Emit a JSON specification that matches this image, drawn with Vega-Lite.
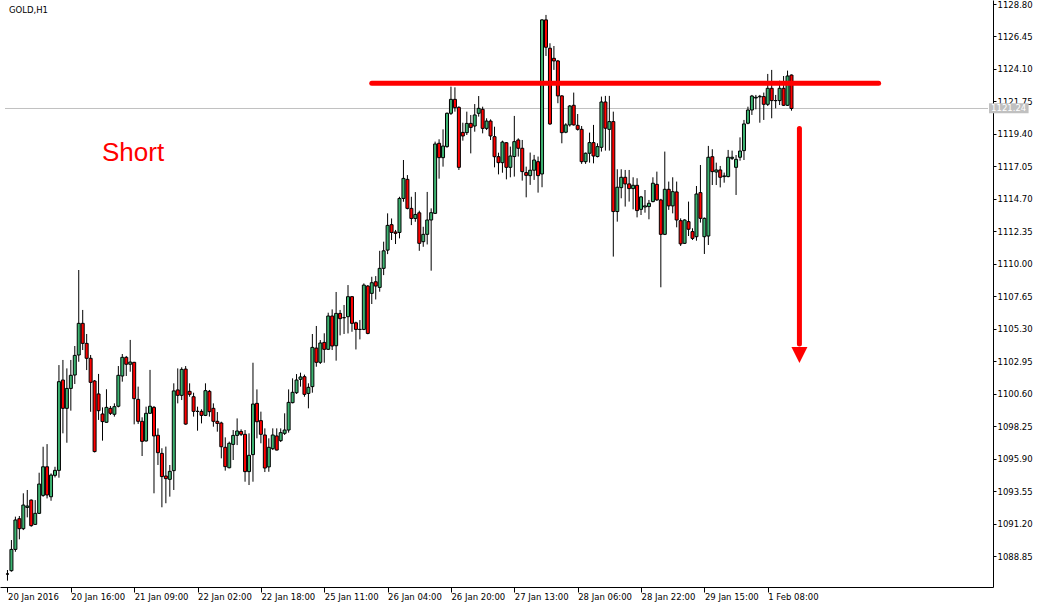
{
  "$schema": "https://vega.github.io/schema/vega-lite/v6.json",
  "width": 993,
  "height": 587,
  "autosize": {"type": "none"},
  "padding": {"left": 0, "top": 0, "right": 52, "bottom": 21},
  "background": "white",
  "config": {"view": {"stroke": null}, "font": "DejaVu Sans"},
  "datasets": {
    "candles": [
      {"i":0,"o":1087.55,"h":1087.84,"l":1087.07,"c":1087.55},
      {"i":1,"o":1087.79,"h":1090.01,"l":1087.72,"c":1089.33},
      {"i":2,"o":1089.33,"h":1091.70,"l":1089.16,"c":1091.46},
      {"i":3,"o":1091.55,"h":1091.75,"l":1090.06,"c":1090.83},
      {"i":4,"o":1090.83,"h":1093.39,"l":1090.73,"c":1092.54},
      {"i":5,"o":1092.37,"h":1093.63,"l":1091.65,"c":1092.47},
      {"i":6,"o":1092.90,"h":1092.95,"l":1090.97,"c":1091.05},
      {"i":7,"o":1091.14,"h":1092.90,"l":1091.10,"c":1091.94},
      {"i":8,"o":1091.94,"h":1094.88,"l":1091.89,"c":1094.06},
      {"i":9,"o":1093.24,"h":1096.76,"l":1093.14,"c":1095.31},
      {"i":10,"o":1095.31,"h":1096.95,"l":1093.02,"c":1093.27},
      {"i":11,"o":1093.14,"h":1094.83,"l":1092.85,"c":1094.71},
      {"i":12,"o":1094.69,"h":1095.31,"l":1094.54,"c":1095.05},
      {"i":13,"o":1095.05,"h":1102.67,"l":1094.52,"c":1101.47},
      {"i":14,"o":1101.59,"h":1103.04,"l":1097.73,"c":1099.54},
      {"i":15,"o":1099.54,"h":1102.43,"l":1097.05,"c":1100.98},
      {"i":16,"o":1100.98,"h":1103.04,"l":1099.37,"c":1101.93},
      {"i":17,"o":1101.95,"h":1104.05,"l":1101.30,"c":1103.37},
      {"i":18,"o":1103.40,"h":1109.55,"l":1102.91,"c":1105.69},
      {"i":19,"o":1105.69,"h":1106.66,"l":1103.76,"c":1104.24},
      {"i":20,"o":1104.24,"h":1104.92,"l":1102.31,"c":1103.16},
      {"i":21,"o":1103.16,"h":1103.40,"l":1099.29,"c":1101.42},
      {"i":22,"o":1101.52,"h":1101.59,"l":1096.35,"c":1096.41},
      {"i":23,"o":1100.58,"h":1102.03,"l":1098.70,"c":1099.37},
      {"i":24,"o":1099.13,"h":1099.61,"l":1097.20,"c":1098.58},
      {"i":25,"o":1098.53,"h":1100.92,"l":1098.50,"c":1099.61},
      {"i":26,"o":1099.54,"h":1099.71,"l":1099.06,"c":1099.18},
      {"i":27,"o":1099.11,"h":1099.90,"l":1098.94,"c":1099.66},
      {"i":28,"o":1099.69,"h":1102.60,"l":1099.61,"c":1101.93},
      {"i":29,"o":1101.88,"h":1103.47,"l":1101.47,"c":1103.23},
      {"i":30,"o":1103.23,"h":1103.33,"l":1101.88,"c":1102.73},
      {"i":31,"o":1102.73,"h":1104.49,"l":1102.19,"c":1102.89},
      {"i":32,"o":1102.87,"h":1102.90,"l":1098.38,"c":1100.24},
      {"i":33,"o":1100.19,"h":1101.11,"l":1098.41,"c":1098.60},
      {"i":34,"o":1098.60,"h":1098.89,"l":1096.09,"c":1097.15},
      {"i":35,"o":1097.18,"h":1099.66,"l":1097.13,"c":1099.18},
      {"i":36,"o":1099.18,"h":1102.32,"l":1099.13,"c":1099.69},
      {"i":37,"o":1099.61,"h":1099.71,"l":1093.39,"c":1097.54},
      {"i":38,"o":1097.59,"h":1098.09,"l":1095.44,"c":1096.33},
      {"i":39,"o":1096.28,"h":1096.65,"l":1092.38,"c":1094.60},
      {"i":40,"o":1094.64,"h":1096.77,"l":1092.67,"c":1094.45},
      {"i":41,"o":1094.40,"h":1095.44,"l":1093.15,"c":1094.98},
      {"i":42,"o":1095.03,"h":1101.35,"l":1093.63,"c":1100.80},
      {"i":43,"o":1100.87,"h":1102.43,"l":1099.90,"c":1100.48},
      {"i":44,"o":1100.48,"h":1102.51,"l":1100.14,"c":1102.36},
      {"i":45,"o":1102.38,"h":1102.60,"l":1098.35,"c":1098.40},
      {"i":46,"o":1100.77,"h":1101.35,"l":1100.38,"c":1100.55},
      {"i":47,"o":1100.38,"h":1100.67,"l":1098.94,"c":1099.32},
      {"i":48,"o":1099.32,"h":1099.66,"l":1097.92,"c":1099.32},
      {"i":49,"o":1099.32,"h":1099.47,"l":1098.45,"c":1099.03},
      {"i":50,"o":1099.03,"h":1101.35,"l":1098.98,"c":1100.82},
      {"i":51,"o":1100.77,"h":1100.87,"l":1098.94,"c":1099.30},
      {"i":52,"o":1099.54,"h":1099.90,"l":1098.21,"c":1098.60},
      {"i":53,"o":1098.60,"h":1099.27,"l":1097.85,"c":1098.45},
      {"i":54,"o":1098.48,"h":1098.57,"l":1095.92,"c":1096.76},
      {"i":55,"o":1096.72,"h":1097.44,"l":1095.03,"c":1095.32},
      {"i":56,"o":1095.24,"h":1097.13,"l":1095.20,"c":1097.01},
      {"i":57,"o":1096.93,"h":1097.97,"l":1095.80,"c":1097.58},
      {"i":58,"o":1097.58,"h":1098.81,"l":1096.88,"c":1097.90},
      {"i":59,"o":1097.87,"h":1098.02,"l":1097.54,"c":1097.66},
      {"i":60,"o":1097.66,"h":1097.97,"l":1094.23,"c":1094.96},
      {"i":61,"o":1094.96,"h":1097.73,"l":1093.99,"c":1096.14},
      {"i":62,"o":1096.19,"h":1102.84,"l":1094.23,"c":1099.85},
      {"i":63,"o":1099.90,"h":1100.91,"l":1097.37,"c":1098.57},
      {"i":64,"o":1098.65,"h":1099.30,"l":1097.01,"c":1097.66},
      {"i":65,"o":1097.61,"h":1098.09,"l":1094.93,"c":1095.22},
      {"i":66,"o":1095.30,"h":1097.37,"l":1094.95,"c":1096.72},
      {"i":67,"o":1096.62,"h":1098.09,"l":1096.52,"c":1097.61},
      {"i":68,"o":1097.54,"h":1098.09,"l":1096.50,"c":1096.52},
      {"i":69,"o":1097.20,"h":1098.09,"l":1097.10,"c":1097.78},
      {"i":70,"o":1097.73,"h":1099.18,"l":1097.61,"c":1097.97},
      {"i":71,"o":1097.97,"h":1100.91,"l":1097.78,"c":1099.97},
      {"i":72,"o":1099.95,"h":1101.71,"l":1099.90,"c":1100.70},
      {"i":73,"o":1100.67,"h":1102.02,"l":1100.58,"c":1101.59},
      {"i":74,"o":1101.64,"h":1102.12,"l":1101.11,"c":1101.81},
      {"i":75,"o":1101.83,"h":1101.98,"l":1100.38,"c":1100.55},
      {"i":76,"o":1100.62,"h":1101.35,"l":1099.54,"c":1101.06},
      {"i":77,"o":1101.11,"h":1104.92,"l":1100.67,"c":1103.95},
      {"i":78,"o":1103.90,"h":1105.50,"l":1102.55,"c":1102.87},
      {"i":79,"o":1102.87,"h":1104.48,"l":1102.75,"c":1104.27},
      {"i":80,"o":1104.31,"h":1104.97,"l":1102.84,"c":1103.81},
      {"i":81,"o":1103.81,"h":1106.46,"l":1103.76,"c":1106.22},
      {"i":82,"o":1106.22,"h":1106.70,"l":1103.76,"c":1104.05},
      {"i":83,"o":1104.07,"h":1107.96,"l":1102.99,"c":1106.41},
      {"i":84,"o":1106.41,"h":1106.66,"l":1104.82,"c":1106.03},
      {"i":85,"o":1106.10,"h":1107.02,"l":1104.92,"c":1106.10},
      {"i":86,"o":1106.17,"h":1108.46,"l":1104.96,"c":1107.62},
      {"i":87,"o":1107.62,"h":1107.67,"l":1105.08,"c":1105.69},
      {"i":88,"o":1105.73,"h":1105.81,"l":1103.80,"c":1105.25},
      {"i":89,"o":1105.25,"h":1105.93,"l":1104.53,"c":1105.25},
      {"i":90,"o":1105.25,"h":1108.58,"l":1105.20,"c":1108.46},
      {"i":91,"o":1108.39,"h":1108.46,"l":1104.90,"c":1104.96},
      {"i":92,"o":1107.86,"h":1109.06,"l":1107.09,"c":1108.63},
      {"i":93,"o":1108.70,"h":1109.11,"l":1107.42,"c":1108.39},
      {"i":94,"o":1108.29,"h":1110.94,"l":1107.98,"c":1109.67},
      {"i":95,"o":1109.67,"h":1111.60,"l":1109.18,"c":1110.94},
      {"i":96,"o":1110.99,"h":1113.65,"l":1110.70,"c":1112.78},
      {"i":97,"o":1112.83,"h":1113.28,"l":1111.72,"c":1112.27},
      {"i":98,"o":1112.30,"h":1112.45,"l":1111.43,"c":1112.20},
      {"i":99,"o":1112.27,"h":1114.85,"l":1111.84,"c":1114.73},
      {"i":100,"o":1114.73,"h":1117.51,"l":1114.49,"c":1116.18},
      {"i":101,"o":1116.11,"h":1116.42,"l":1113.94,"c":1114.01},
      {"i":102,"o":1114.01,"h":1114.85,"l":1112.80,"c":1113.28},
      {"i":103,"o":1113.28,"h":1115.19,"l":1113.04,"c":1113.57},
      {"i":104,"o":1113.69,"h":1113.84,"l":1110.94,"c":1111.48},
      {"i":105,"o":1111.60,"h":1112.68,"l":1111.23,"c":1112.13},
      {"i":106,"o":1112.13,"h":1115.20,"l":1111.40,"c":1113.17},
      {"i":107,"o":1113.17,"h":1114.01,"l":1109.50,"c":1113.70},
      {"i":108,"o":1113.65,"h":1118.84,"l":1113.60,"c":1118.67},
      {"i":109,"o":1118.72,"h":1119.01,"l":1116.16,"c":1117.68},
      {"i":110,"o":1117.68,"h":1119.73,"l":1117.03,"c":1118.52},
      {"i":111,"o":1118.48,"h":1120.95,"l":1118.40,"c":1120.89},
      {"i":112,"o":1120.89,"h":1122.82,"l":1120.77,"c":1121.90},
      {"i":113,"o":1121.90,"h":1122.77,"l":1121.01,"c":1121.30},
      {"i":114,"o":1121.32,"h":1121.40,"l":1116.79,"c":1116.98},
      {"i":115,"o":1119.51,"h":1120.21,"l":1118.91,"c":1119.25},
      {"i":116,"o":1119.49,"h":1121.01,"l":1119.32,"c":1120.16},
      {"i":117,"o":1120.16,"h":1120.77,"l":1117.99,"c":1119.87},
      {"i":118,"o":1119.97,"h":1121.56,"l":1119.56,"c":1120.77},
      {"i":119,"o":1120.89,"h":1122.14,"l":1120.65,"c":1121.25},
      {"i":120,"o":1121.18,"h":1121.37,"l":1119.44,"c":1119.80},
      {"i":121,"o":1119.80,"h":1120.53,"l":1119.68,"c":1120.33},
      {"i":122,"o":1120.33,"h":1120.45,"l":1118.96,"c":1119.25},
      {"i":123,"o":1119.20,"h":1119.92,"l":1116.98,"c":1117.75},
      {"i":124,"o":1117.75,"h":1118.04,"l":1116.47,"c":1117.32},
      {"i":125,"o":1117.32,"h":1118.91,"l":1116.59,"c":1118.81},
      {"i":126,"o":1118.76,"h":1118.80,"l":1116.11,"c":1116.98},
      {"i":127,"o":1116.98,"h":1118.48,"l":1116.26,"c":1117.80},
      {"i":128,"o":1117.76,"h":1120.70,"l":1116.31,"c":1118.84},
      {"i":129,"o":1118.96,"h":1119.08,"l":1117.76,"c":1118.36},
      {"i":130,"o":1118.36,"h":1118.96,"l":1116.02,"c":1116.67},
      {"i":131,"o":1116.60,"h":1117.03,"l":1114.81,"c":1116.40},
      {"i":132,"o":1116.38,"h":1118.05,"l":1115.71,"c":1116.77},
      {"i":133,"o":1116.77,"h":1117.88,"l":1116.07,"c":1117.51},
      {"i":134,"o":1117.39,"h":1117.76,"l":1115.15,"c":1116.38},
      {"i":135,"o":1116.50,"h":1127.70,"l":1115.54,"c":1127.65},
      {"i":136,"o":1127.65,"h":1128.01,"l":1125.04,"c":1125.67},
      {"i":137,"o":1125.60,"h":1125.96,"l":1120.05,"c":1120.12},
      {"i":138,"o":1124.87,"h":1125.76,"l":1124.03,"c":1124.68},
      {"i":139,"o":1124.68,"h":1124.75,"l":1121.62,"c":1122.15},
      {"i":140,"o":1122.15,"h":1122.20,"l":1118.72,"c":1119.49},
      {"i":141,"o":1119.52,"h":1120.17,"l":1119.45,"c":1120.05},
      {"i":142,"o":1120.05,"h":1121.49,"l":1119.93,"c":1121.42},
      {"i":143,"o":1121.47,"h":1122.39,"l":1120.00,"c":1120.05},
      {"i":144,"o":1120.02,"h":1120.84,"l":1119.64,"c":1119.73},
      {"i":145,"o":1119.73,"h":1119.97,"l":1117.23,"c":1117.39},
      {"i":146,"o":1117.39,"h":1118.05,"l":1117.23,"c":1118.00},
      {"i":147,"o":1118.00,"h":1119.49,"l":1117.32,"c":1118.77},
      {"i":148,"o":1118.77,"h":1120.05,"l":1117.27,"c":1117.80},
      {"i":149,"o":1117.76,"h":1118.72,"l":1117.70,"c":1118.48},
      {"i":150,"o":1118.43,"h":1122.10,"l":1118.12,"c":1121.71},
      {"i":151,"o":1121.71,"h":1122.15,"l":1118.19,"c":1119.81},
      {"i":152,"o":1119.73,"h":1122.15,"l":1118.19,"c":1120.29},
      {"i":153,"o":1120.29,"h":1121.01,"l":1110.52,"c":1113.78},
      {"i":154,"o":1113.78,"h":1116.84,"l":1113.05,"c":1115.54},
      {"i":155,"o":1115.51,"h":1116.84,"l":1114.74,"c":1116.26},
      {"i":156,"o":1116.26,"h":1116.79,"l":1114.14,"c":1115.78},
      {"i":157,"o":1115.78,"h":1116.79,"l":1114.50,"c":1115.44},
      {"i":158,"o":1115.44,"h":1116.26,"l":1113.94,"c":1115.68},
      {"i":159,"o":1115.68,"h":1116.19,"l":1113.36,"c":1113.85},
      {"i":160,"o":1113.94,"h":1114.91,"l":1113.53,"c":1114.84},
      {"i":161,"o":1114.11,"h":1115.34,"l":1113.70,"c":1114.19},
      {"i":162,"o":1114.14,"h":1114.62,"l":1113.22,"c":1114.38},
      {"i":163,"o":1114.50,"h":1116.26,"l":1114.45,"c":1115.83},
      {"i":164,"o":1115.75,"h":1116.67,"l":1114.55,"c":1114.62},
      {"i":165,"o":1114.62,"h":1114.70,"l":1108.30,"c":1112.13},
      {"i":166,"o":1112.13,"h":1118.12,"l":1112.08,"c":1115.39},
      {"i":167,"o":1115.39,"h":1115.95,"l":1113.90,"c":1114.19},
      {"i":168,"o":1114.19,"h":1116.26,"l":1113.65,"c":1115.22},
      {"i":169,"o":1115.20,"h":1115.95,"l":1112.64,"c":1113.17},
      {"i":170,"o":1113.12,"h":1113.29,"l":1111.29,"c":1111.44},
      {"i":171,"o":1111.48,"h":1113.22,"l":1111.43,"c":1113.17},
      {"i":172,"o":1113.05,"h":1114.50,"l":1112.01,"c":1112.50},
      {"i":173,"o":1112.33,"h":1112.57,"l":1111.72,"c":1111.84},
      {"i":174,"o":1111.96,"h":1115.63,"l":1111.67,"c":1115.05},
      {"i":175,"o":1115.15,"h":1117.15,"l":1112.98,"c":1113.29},
      {"i":176,"o":1111.96,"h":1113.35,"l":1110.71,"c":1113.29},
      {"i":177,"o":1112.01,"h":1118.53,"l":1111.36,"c":1117.71},
      {"i":178,"o":1117.75,"h":1118.29,"l":1115.70,"c":1116.67},
      {"i":179,"o":1116.64,"h":1117.32,"l":1115.70,"c":1116.79},
      {"i":180,"o":1116.79,"h":1117.08,"l":1115.53,"c":1116.26},
      {"i":181,"o":1116.31,"h":1116.60,"l":1115.87,"c":1116.36},
      {"i":182,"o":1116.31,"h":1118.24,"l":1116.26,"c":1117.71},
      {"i":183,"o":1117.63,"h":1118.19,"l":1117.51,"c":1117.71},
      {"i":184,"o":1116.98,"h":1117.87,"l":1114.98,"c":1117.56},
      {"i":185,"o":1117.71,"h":1119.15,"l":1117.46,"c":1118.16},
      {"i":186,"o":1118.19,"h":1120.41,"l":1117.51,"c":1120.12},
      {"i":187,"o":1120.17,"h":1121.37,"l":1120.10,"c":1121.13},
      {"i":188,"o":1121.13,"h":1122.22,"l":1120.77,"c":1122.14},
      {"i":189,"o":1122.00,"h":1122.22,"l":1121.18,"c":1122.05},
      {"i":190,"o":1122.08,"h":1122.22,"l":1120.21,"c":1122.12},
      {"i":191,"o":1122.10,"h":1122.39,"l":1120.41,"c":1121.54},
      {"i":192,"o":1121.54,"h":1123.74,"l":1121.42,"c":1122.70},
      {"i":193,"o":1122.70,"h":1124.03,"l":1120.53,"c":1121.81},
      {"i":194,"o":1121.81,"h":1122.22,"l":1121.25,"c":1121.81},
      {"i":195,"o":1121.81,"h":1123.25,"l":1121.49,"c":1122.70},
      {"i":196,"o":1122.70,"h":1123.59,"l":1121.42,"c":1121.47},
      {"i":197,"o":1121.47,"h":1123.98,"l":1121.42,"c":1123.59},
      {"i":198,"o":1123.66,"h":1123.70,"l":1121.08,"c":1121.24}
    ]
  },
  "layer": [
    {
      "data": {"values": [{}]},
      "mark": {"type": "rule", "color": "#c0c0c0", "strokeWidth": 1},
      "encoding": {
        "x": {
          "datum": -0.625,
          "type": "quantitative",
          "scale": {"domain": [-0.625, 247.625], "nice": false, "zero": false},
          "axis": {
            "orient": "bottom",
            "title": null,
            "grid": false,
            "values": [0, 16, 32, 48, 64, 80, 96, 112, 128, 144, 160, 176, 192],
            "tickCount": 60,
            "labelExpr": "['20 Jan 2016','20 Jan 16:00','21 Jan 09:00','22 Jan 02:00','22 Jan 18:00','25 Jan 11:00','26 Jan 04:00','26 Jan 20:00','27 Jan 13:00','28 Jan 06:00','28 Jan 22:00','29 Jan 15:00','1 Feb 08:00'][round(datum.value / 16)]",
            "labelAlign": "left",
            "labelBaseline": "middle",
            "labelPadding": 4,
            "labelFlush": false,
            "labelOverlap": false,
            "labelFont": "DejaVu Sans",
            "labelFontSize": 8.5,
            "labelColor": "#000000",
            "tickSize": 5,
            "tickColor": "#000000",
            "domainColor": "#000000",
            "zindex": 0
          }
        },
        "x2": {"datum": 247.625},
        "y": {
          "datum": 1121.24,
          "type": "quantitative",
          "scale": {"domain": [1086.61, 1129.09], "nice": false, "zero": false},
          "axis": {
            "orient": "right",
            "title": null,
            "grid": false,
            "values": [1088.85, 1091.2, 1093.55, 1095.9, 1098.25, 1100.6, 1102.95, 1105.3, 1107.65, 1110.0, 1112.35, 1114.7, 1117.05, 1119.4, 1121.75, 1124.1, 1126.45, 1128.8],
            "tickCount": 60,
            "format": ".2f",
            "labelAlign": "left",
            "labelBaseline": "middle",
            "labelPadding": 1,
            "labelFlush": false,
            "labelOverlap": false,
            "labelFont": "DejaVu Sans",
            "labelFontSize": 8.5,
            "labelColor": "#000000",
            "tickSize": 3,
            "tickColor": "#000000",
            "domainColor": "#000000",
            "zindex": 0
          }
        }
      }
    },
    {
      "data": {"name": "candles"},
      "mark": {"type": "rule", "color": "#000000", "strokeWidth": 1},
      "encoding": {
        "x": {"field": "i", "type": "quantitative"},
        "y": {"field": "l", "type": "quantitative"},
        "y2": {"field": "h"}
      }
    },
    {
      "data": {"name": "candles"},
      "mark": {"type": "bar", "size": 3, "stroke": "#000000", "strokeWidth": 1},
      "encoding": {
        "x": {"field": "i", "type": "quantitative"},
        "y": {"field": "o", "type": "quantitative"},
        "y2": {"field": "c"},
        "fill": {
          "condition": {"test": "datum.c >= datum.o", "value": "#3cb371"},
          "value": "#ff0000"
        }
      }
    },
    {
      "data": {"values": [{}]},
      "mark": {"type": "rule", "color": "#ff0000", "strokeWidth": 5, "strokeCap": "round"},
      "encoding": {
        "x": {"datum": 92.0, "type": "quantitative"},
        "x2": {"datum": 220.0},
        "y": {"datum": 1123.07, "type": "quantitative"}
      }
    },
    {
      "data": {"values": [{}]},
      "mark": {"type": "rule", "color": "#ff0000", "strokeWidth": 5, "strokeCap": "round"},
      "encoding": {
        "x": {"datum": 200.0, "type": "quantitative"},
        "y": {"datum": 1119.79, "type": "quantitative"},
        "y2": {"datum": 1104.2}
      }
    },
    {
      "data": {"values": [{}]},
      "mark": {"type": "point", "shape": "M-1,-1L1,-1L0,1Z", "size": 256, "filled": true, "color": "#ff0000", "opacity": 1, "strokeWidth": 0},
      "encoding": {
        "x": {"datum": 200.0, "type": "quantitative"},
        "y": {"datum": 1103.4, "type": "quantitative"}
      }
    },
    {
      "data": {"values": [{}]},
      "mark": {"type": "text", "text": "Short", "font": "Liberation Sans", "fontSize": 26, "color": "#ff0000", "align": "left", "baseline": "alphabetic"},
      "encoding": {
        "x": {"datum": 23.875, "type": "quantitative"},
        "y": {"datum": 1117.44, "type": "quantitative"}
      }
    },
    {
      "data": {"values": [{}]},
      "mark": {"type": "text", "text": "GOLD,H1", "font": "DejaVu Sans", "fontSize": 8.5, "color": "#000000", "align": "left", "baseline": "alphabetic"},
      "encoding": {
        "x": {"datum": 0.375, "type": "quantitative"},
        "y": {"datum": 1128.15, "type": "quantitative"}
      }
    },
    {
      "data": {"values": [{}]},
      "mark": {"type": "rect", "color": "#c0c0c0"},
      "encoding": {
        "x": {"datum": 247.875, "type": "quantitative"},
        "x2": {"datum": 257.875},
        "y": {"datum": 1121.61, "type": "quantitative"},
        "y2": {"datum": 1120.89}
      }
    },
    {
      "data": {"values": [{}]},
      "mark": {"type": "text", "text": "1121.24", "font": "DejaVu Sans", "fontSize": 8.5, "color": "#ffffff", "align": "left", "baseline": "middle"},
      "encoding": {
        "x": {"datum": 248.4, "type": "quantitative"},
        "y": {"datum": 1121.25, "type": "quantitative"}
      }
    }
  ]
}
